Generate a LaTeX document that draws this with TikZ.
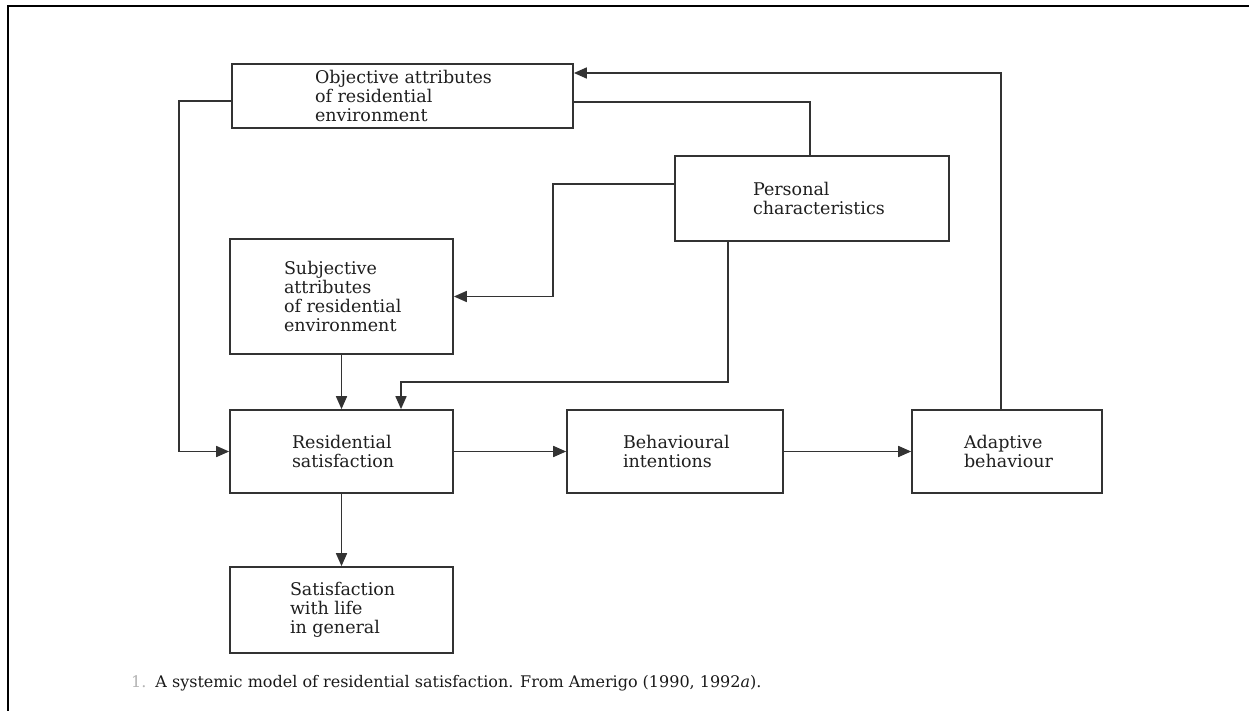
\documentclass[tikz,border=0pt]{standalone}
\usepackage{fontspec}
\setmainfont{DejaVu Serif}
\usetikzlibrary{arrows.meta,calc}
\hyphenpenalty=10000
\exhyphenpenalty=10000
\tikzset{
  factor/.style={rectangle, draw=black!80, line width=1.7pt, fill=white, inner sep=0pt,
    font=\fontsize{17.5}{19}\selectfont, text=black!88, align=flush left},
  arrow/.style={-{Triangle[length=13pt,width=11pt]}, line width=1.7pt, draw=black!80},
  link/.style={line width=1.7pt, draw=black!80},
  frame/.style={line width=2.8pt, black}
}

\begin{document}
\begin{tikzpicture}[x=1pt, y=-1pt]
  \useasboundingbox (0,0) rectangle (1249,711);
  % page frame
  \draw[frame] (8,711) -- (8,6) -- (1249,6);

  % factors
  \node[factor, minimum width=341pt, minimum height=64pt, text width=175pt] (obj) at (402.5,96) {\mbox{Objective attributes}\\\mbox{of residential}\\environment};
  \node[factor, minimum width=274pt, minimum height=85pt, text width=118pt] (pers) at (812,198.5) {Personal\\characteristics};
  \node[factor, minimum width=223pt, minimum height=115pt, text width=115pt] (subj) at (341.5,296.5) {Subjective\\attributes\\\mbox{of residential}\\environment};
  \node[factor, minimum width=223pt, minimum height=83pt, text width=99pt] (ressat) at (341.5,451.5) {Residential\\satisfaction};
  \node[factor, minimum width=223pt, minimum height=86pt, text width=103pt] (life) at (341.5,610) {Satisfaction\\\mbox{with life}\\\mbox{in general}};
  \node[factor, minimum width=216pt, minimum height=83pt, text width=104pt] (behav) at (675,451.5) {Behavioural\\intentions};
  \node[factor, minimum width=190pt, minimum height=83pt, text width=86pt] (adapt) at (1007,451.5) {Adaptive\\behaviour};

  % links
  \draw[arrow] ([yshift=-5pt]obj.west) -- ++(-52,0) |- (ressat.west);
  \draw[arrow] ([xshift=-6pt]adapt.north) |- ([yshift=23pt]obj.east);
  \draw[link] ([xshift=-2pt]pers.north) |- ([yshift=-6pt]obj.east);
  \draw[arrow] ([yshift=14.5pt]pers.west) -- ++(-121,0) |- (subj.east);
  \draw[arrow] ([xshift=-84pt]pers.south) -- ++(0,140) -| ([xshift=59.5pt]ressat.north);
  \draw[arrow] (subj.south) -- (ressat.north);
  \draw[arrow] (ressat.east) -- (behav.west);
  \draw[arrow] (behav.east) -- (adapt.west);
  \draw[arrow] (ressat.south) -- (life.north);

  % caption
  \node[anchor=west, inner sep=0pt, font=\fontsize{16}{18}\selectfont, text=black!90] (caption) at (131,683)
    {\textcolor{black!30}{1.}\hspace{9pt}A systemic model of residential satisfaction. From Amerigo (1990, 1992\textit{a}).};
\end{tikzpicture}
\end{document}
